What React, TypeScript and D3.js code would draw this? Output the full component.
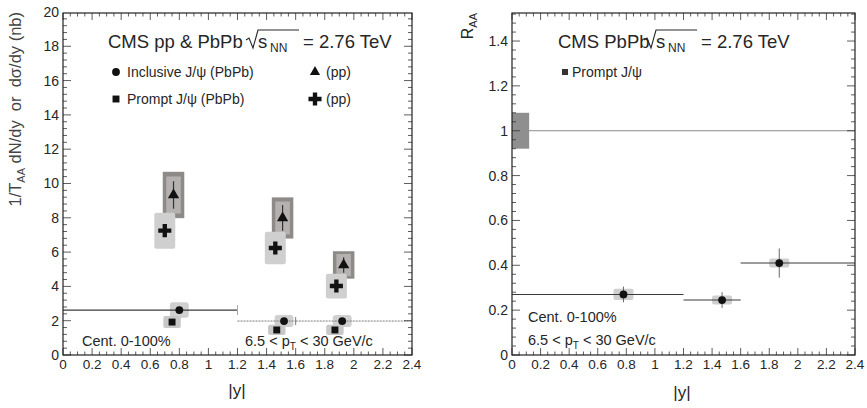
import React from "react";
import * as d3 from "d3";

// ---------- data ----------
const binLo = [0, 1.2, 1.6];
const binHi = [1.2, 1.6, 2.4];

// left panel: pp (triangles = inclusive pp, crosses = prompt pp)
const ppInclX = [0.76, 1.51, 1.93];
const ppInclY = [9.33, 7.99, 5.25];
const ppInclStat = [0.8, 0.75, 0.45];
const ppInclSyst = [1.35, 1.2, 0.8];

const ppPromptX = [0.7, 1.46, 1.88];
const ppPromptY = [7.25, 6.24, 4.02];
const ppPromptSyst = [1.05, 0.95, 0.72];

// left panel: PbPb
const pbInclX = [0.8, 1.52, 1.92];
const pbInclY = [2.62, 1.98, 1.98];
const pbInclSyst = [0.45, 0.35, 0.35];

const pbPromptX = [0.75, 1.47, 1.87];
const pbPromptY = [1.92, 1.46, 1.46];
const pbPromptSyst = [0.35, 0.3, 0.3];

// right panel: R_AA prompt
const raaX = [0.78, 1.47, 1.87];
const raaY = [0.27, 0.245, 0.41];
const raaStat = [0.035, 0.035, 0.065];
const raaSyst = [0.025, 0.02, 0.02];
const raaGlobal = 0.08;

const xTickLabels = ["0", "0.2", "0.4", "0.6", "0.8", "1", "1.2", "1.4", "1.6", "1.8", "2", "2.2", "2.4"];
const yLeftTickLabels = ["0", "2", "4", "6", "8", "10", "12", "14", "16", "18", "20"];
const yRightTickLabels = ["0", "0.2", "0.4", "0.6", "0.8", "1", "1.2", "1.4"];

// ---------- layout ----------
const FONT = "'Liberation Sans', Arial, Helvetica, sans-serif";
const TXT = "#262626";

const L = { x0: 63, x1: 412, y0: 355, y1: 13 };
const R = { x0: 512, x1: 855, y0: 355, y1: 13 };

const xL = d3.scaleLinear().domain([0, 2.4]).range([L.x0, L.x1]);
const yL = d3.scaleLinear().domain([0, 19.94]).range([L.y0, L.y1]);
const xR = d3.scaleLinear().domain([0, 2.4]).range([R.x0, R.x1]);
const yR = d3.scaleLinear().domain([0, 1.525]).range([R.y0, R.y1]);

const sym = (type: any, size: number) => d3.symbol().type(type).size(size)() as string;

function Frame({ box, x, y, xMinor, yMajor, yMinor, yMax, yLabels }: any) {
  const els: any[] = [];
  const nx = Math.round(2.4 / xMinor);
  for (let i = 0; i <= nx; i++) {
    const v = i * xMinor;
    const major = Math.abs(v / 0.2 - Math.round(v / 0.2)) < 1e-6;
    const len = major ? 7 : 3.5;
    const px = x(v);
    els.push(<line key={"xb" + i} x1={px} x2={px} y1={box.y0} y2={box.y0 - len} stroke="#333" strokeWidth={0.8} />);
    els.push(<line key={"xt" + i} x1={px} x2={px} y1={box.y1} y2={box.y1 + len} stroke="#333" strokeWidth={0.8} />);
  }
  const ny = Math.round(yMax / yMinor);
  for (let i = 0; i <= ny; i++) {
    const v = i * yMinor;
    const major = Math.abs(v / yMajor - Math.round(v / yMajor)) < 1e-6;
    const len = major ? 8 : 4;
    const py = y(v);
    if (py < box.y1 - 0.5) continue;
    els.push(<line key={"yl" + i} x1={box.x0} x2={box.x0 + len} y1={py} y2={py} stroke="#333" strokeWidth={0.8} />);
    els.push(<line key={"yr" + i} x1={box.x1} x2={box.x1 - len} y1={py} y2={py} stroke="#333" strokeWidth={0.8} />);
  }
  xTickLabels.forEach((t, i) => {
    els.push(
      <text key={"xl" + i} x={x(i * 0.2)} y={box.y0 + 14} textAnchor="middle" fontSize={13.5} fontFamily={FONT} fill={TXT}>
        {t}
      </text>
    );
  });
  yLabels.forEach((t: string, i: number) => {
    els.push(
      <text key={"yl2" + i} x={box.x0 - 4} y={y(i * yMajor) + 5} textAnchor="end" fontSize={14} fontFamily={FONT} fill={TXT}>
        {t}
      </text>
    );
  });
  els.push(
    <rect key="frame" x={box.x0} y={box.y1} width={box.x1 - box.x0} height={box.y0 - box.y1} fill="none" stroke="#222" strokeWidth={1.2} />
  );
  return <g>{els}</g>;
}

function Sqrt({ x, y, label }: { x: number; y: number; label: string }) {
  return (
    <g fontFamily={FONT} fill={TXT}>
      <path d={`M${x},${y - 8} L${x + 3},${y - 10} L${x + 7},${y} L${x + 12},${y - 18} L${x + 53},${y - 18}`} fill="none" stroke={TXT} strokeWidth={1.1} />
      <text x={x + 12} y={y} fontSize={18.5}>s</text>
      <text x={x + 24} y={y + 4} fontSize={12}>NN</text>
      <text x={x + 57} y={y} fontSize={18.5}>{label}</text>
    </g>
  );
}

export default function App() {
  const triangle = sym(d3.symbolTriangle, 55);
  const cross = sym(d3.symbolCross, 95);
  const circle = sym(d3.symbolCircle, 48);
  const square = sym(d3.symbolSquare, 48);

  return (
    <svg width={867} height={408} style={{ position: "absolute", left: 0, top: 0, background: "#fff" }}>
      <rect x={0} y={0} width={867} height={408} fill="#fff" />

      {/* ================= LEFT PANEL ================= */}
      {ppInclX.map((v, i) => (
        <g key={"tb" + i}>
          <rect x={xL(v - 0.074)} y={yL(ppInclY[i] + ppInclSyst[i])} width={xL(0.148) - xL(0)} height={yL(0) - yL(2 * ppInclSyst[i])} fill="#8e8a88" />
          <rect x={xL(v - 0.05)} y={yL(ppInclY[i] + ppInclSyst[i] * 0.8)} width={xL(0.1) - xL(0)} height={yL(0) - yL(1.6 * ppInclSyst[i])} fill="#b4b1b0" />
        </g>
      ))}
      {ppPromptX.map((v, i) => (
        <rect key={"cb" + i} x={xL(v - 0.072)} y={yL(ppPromptY[i] + ppPromptSyst[i])} width={xL(0.144) - xL(0)} height={yL(0) - yL(2 * ppPromptSyst[i])} fill="#cfcfcf" rx={2} />
      ))}
      {pbInclX.map((v, i) => (
        <rect key={"pb" + i} x={xL(v - 0.065)} y={yL(pbInclY[i] + pbInclSyst[i])} width={xL(0.13) - xL(0)} height={yL(0) - yL(2 * pbInclSyst[i])} fill="#d0d0d0" rx={3} />
      ))}
      {pbPromptX.map((v, i) => (
        <rect key={"pp" + i} x={xL(v - 0.06)} y={yL(pbPromptY[i] + pbPromptSyst[i])} width={xL(0.12) - xL(0)} height={yL(0) - yL(2 * pbPromptSyst[i])} fill="#c8c8c8" rx={2} />
      ))}

      <line x1={xL(binLo[0])} x2={xL(binHi[0])} y1={yL(pbInclY[0])} y2={yL(pbInclY[0])} stroke="#3a3a3a" strokeWidth={1.2} />
      <line x1={xL(binHi[0])} x2={xL(binHi[0])} y1={yL(pbInclY[0]) - 5} y2={yL(pbInclY[0]) + 5} stroke="#aaa" strokeWidth={1} />
      {[1, 2].map((i) => (
        <line key={"bl" + i} x1={xL(binLo[i])} x2={xL(binHi[i])} y1={yL(pbInclY[i])} y2={yL(pbInclY[i])} stroke="#7a7a7a" strokeWidth={1} strokeDasharray="2,1" />
      ))}
      <line x1={xL(binLo[2])} x2={xL(binLo[2])} y1={yL(pbInclY[2]) - 4} y2={yL(pbInclY[2]) + 4} stroke="#777" strokeWidth={1} />

      {ppInclX.map((v, i) => (
        <line key={"te" + i} x1={xL(v)} x2={xL(v)} y1={yL(ppInclY[i] + ppInclStat[i])} y2={yL(ppInclY[i] - ppInclStat[i])} stroke="#333" strokeWidth={1.2} />
      ))}
      {ppInclX.map((v, i) => (
        <path key={"tm" + i} d={triangle} transform={`translate(${xL(v)},${yL(ppInclY[i])})`} fill="#111" />
      ))}
      {ppPromptX.map((v, i) => (
        <path key={"cm" + i} d={cross} transform={`translate(${xL(v)},${yL(ppPromptY[i])})`} fill="#111" />
      ))}
      {pbInclX.map((v, i) => (
        <path key={"im" + i} d={circle} transform={`translate(${xL(v)},${yL(pbInclY[i])})`} fill="#111" />
      ))}
      {pbPromptX.map((v, i) => (
        <path key={"sm" + i} d={square} transform={`translate(${xL(v)},${yL(pbPromptY[i])})`} fill="#111" />
      ))}

      <Frame box={L} x={xL} y={yL} xMinor={0.05} yMajor={2} yMinor={0.4} yMax={20} yLabels={yLeftTickLabels} />

      <text x={108} y={48} fontSize={18.5} fontFamily={FONT} fill={TXT}>CMS pp &amp; PbPb</text>
      <Sqrt x={246} y={48} label="= 2.76 TeV" />
      <path d={circle} transform="translate(116,72)" fill="#111" />
      <text x={127} y={77} fontSize={14} fontFamily={FONT} fill={TXT}>Inclusive J/ψ (PbPb)</text>
      <path d={sym(d3.symbolTriangle, 45)} transform="translate(315,72)" fill="#111" />
      <text x={326} y={77} fontSize={14} fontFamily={FONT} fill={TXT}>(pp)</text>
      <path d={square} transform="translate(116,99)" fill="#111" />
      <text x={127} y={104} fontSize={14} fontFamily={FONT} fill={TXT}>Prompt J/ψ (PbPb)</text>
      <path d={cross} transform="translate(315,99)" fill="#111" />
      <text x={326} y={104} fontSize={14} fontFamily={FONT} fill={TXT}>(pp)</text>

      <text x={82} y={346} fontSize={14.5} fontFamily={FONT} fill={TXT}>Cent. 0-100%</text>
      <text x={245} y={346} fontSize={14.5} fontFamily={FONT} fill={TXT}>
        6.5 &lt; p<tspan fontSize={10} dy={4}>T</tspan><tspan dy={-4}> &lt; 30 GeV/c</tspan>
      </text>

      <text transform="translate(21,12) rotate(-90)" textAnchor="end" fontSize={16.5} fontFamily={FONT} fill="#444">
        1/T<tspan fontSize={11} dy={4}>AA</tspan><tspan dy={-4}>{" dN/dy\u00a0\u00a0or\u00a0\u00a0dσ/dy (nb)"}</tspan>
      </text>
      <text x={237} y={396} textAnchor="middle" fontSize={17} fontFamily={FONT} fill={TXT}>|y|</text>

      {/* ================= RIGHT PANEL ================= */}
      <line x1={R.x0} x2={R.x1} y1={yR(1)} y2={yR(1)} stroke="#8a8a8a" strokeWidth={1.2} />
      <rect x={xR(0)} y={yR(1 + raaGlobal)} width={xR(0.12) - xR(0)} height={yR(0) - yR(2 * raaGlobal)} fill="#8f8f8f" />
      {raaX.map((v, i) => (
        <rect key={"rb" + i} x={xR(v - 0.07)} y={yR(raaY[i] + raaSyst[i])} width={xR(0.14) - xR(0)} height={yR(0) - yR(2 * raaSyst[i])} fill="#cfcfcf" rx={2} />
      ))}
      {raaX.map((v, i) => (
        <g key={"rl" + i}>
          <line x1={xR(binLo[i])} x2={xR(binHi[i])} y1={yR(raaY[i])} y2={yR(raaY[i])} stroke="#3a3a3a" strokeWidth={1.1} />
          <line x1={xR(v)} x2={xR(v)} y1={yR(raaY[i] + raaStat[i])} y2={yR(raaY[i] - raaStat[i])} stroke="#666" strokeWidth={1} />
          <path d={circle} transform={`translate(${xR(v)},${yR(raaY[i])})`} fill="#111" />
        </g>
      ))}

      <Frame box={R} x={xR} y={yR} xMinor={0.05} yMajor={0.2} yMinor={0.04} yMax={1.52} yLabels={yRightTickLabels} />

      <text x={558} y={48} fontSize={18.5} fontFamily={FONT} fill={TXT}>CMS PbPb</text>
      <Sqrt x={644} y={48} label="= 2.76 TeV" />
      <path d={sym(d3.symbolSquare, 36)} transform="translate(565,72)" fill="#333" />
      <text x={572} y={77} fontSize={14} fontFamily={FONT} fill={TXT}>Prompt J/ψ</text>

      <text x={528} y={322} fontSize={14.5} fontFamily={FONT} fill={TXT}>Cent. 0-100%</text>
      <text x={528} y={345} fontSize={14.5} fontFamily={FONT} fill={TXT}>
        6.5 &lt; p<tspan fontSize={10} dy={4}>T</tspan><tspan dy={-4}> &lt; 30 GeV/c</tspan>
      </text>

      <text transform="translate(473,13) rotate(-90)" textAnchor="end" fontSize={16} fontFamily={FONT} fill={TXT}>
        R<tspan fontSize={11} dy={4}>AA</tspan>
      </text>
      <text x={682} y={398} textAnchor="middle" fontSize={17} fontFamily={FONT} fill={TXT}>|y|</text>
    </svg>
  );
}
